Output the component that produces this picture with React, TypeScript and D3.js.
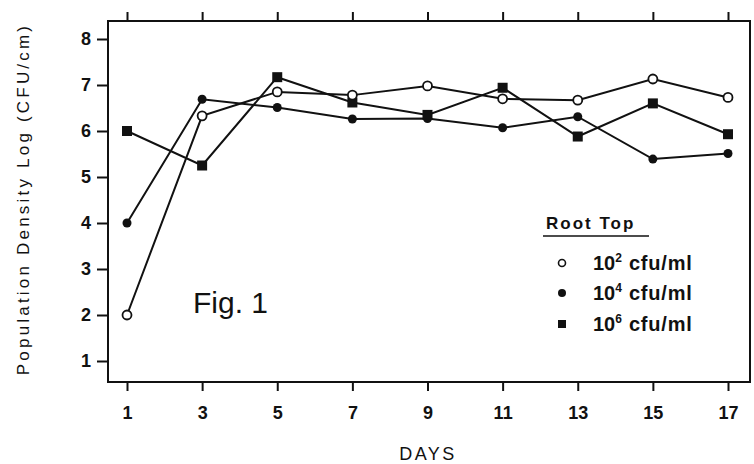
import { useEffect, useRef } from 'react';
import * as d3 from 'd3';

const days = [1, 3, 5, 7, 9, 11, 13, 15, 17];
const yTicks = [1, 2, 3, 4, 5, 6, 7, 8];
const dose2 = [2.0, 6.33, 6.85, 6.78, 6.98, 6.7, 6.67, 7.13, 6.73];
const dose4 = [4.0, 6.69, 6.51, 6.26, 6.27, 6.07, 6.31, 5.39, 5.51];
const dose6 = [6.0, 5.25, 7.17, 6.62, 6.35, 6.94, 5.88, 6.6, 5.93];
const legendLabels = ['2', '4', '6'];

export default function App() {
  const ref = useRef<SVGSVGElement | null>(null);

  useEffect(() => {
    const svg = d3.select(ref.current);
    svg.selectAll('*').remove();

    const font = '"Liberation Sans", Arial, sans-serif';
    const box = { left: 108, right: 750, top: 21, bottom: 382 };

    const x = d3.scaleLinear().domain([1, 17]).range([127, 728]);
    const y = d3.scaleLinear().domain([1, 8]).range([361, 39]);

    // frame
    svg.append('rect')
      .attr('x', box.left)
      .attr('y', box.top)
      .attr('width', box.right - box.left)
      .attr('height', box.bottom - box.top)
      .attr('fill', 'none')
      .attr('stroke', '#111')
      .attr('stroke-width', 2);

    const styleAxis = (g: any) => {
      g.select('.domain').remove();
      g.selectAll('line').attr('stroke', '#111').attr('stroke-width', 2);
      g.selectAll('text')
        .attr('fill', '#111')
        .style('font-family', font)
        .style('font-weight', 'bold')
        .style('font-size', '18px');
    };

    svg.append('g')
      .attr('transform', `translate(${box.left},0)`)
      .call(d3.axisLeft(y).tickValues(yTicks).tickSize(11).tickPadding(6).tickFormat(d3.format('d')))
      .call(styleAxis);

    svg.append('g')
      .attr('transform', `translate(0,${box.bottom})`)
      .call(d3.axisBottom(x).tickValues(days).tickSize(9).tickPadding(15).tickFormat(d3.format('d')))
      .call(styleAxis);

    svg.append('g')
      .attr('transform', `translate(0,${box.top})`)
      .call(d3.axisTop(x).tickValues(days).tickSize(9).tickFormat(() => ''))
      .call(styleAxis);

    // titles
    svg.append('text')
      .attr('transform', `translate(29,199) rotate(-90)`)
      .attr('text-anchor', 'middle')
      .style('font-family', font)
      .style('font-size', '17px')
      .style('font-weight', '500')
      .style('letter-spacing', '3.2px')
      .attr('fill', '#111')
      .text('Population Density Log (CFU/cm)');

    svg.append('text')
      .attr('x', 428)
      .attr('y', 460)
      .attr('text-anchor', 'middle')
      .style('font-family', font)
      .style('font-size', '18px')
      .style('letter-spacing', '2.5px')
      .attr('fill', '#111')
      .text('DAYS');

    svg.append('text')
      .attr('x', 193)
      .attr('y', 313)
      .style('font-family', font)
      .style('font-size', '30px')
      .attr('fill', '#111')
      .text('Fig. 1');

    const line = d3.line<number>()
      .x((_, i) => x(days[i]))
      .y(d => y(d));

    const series = [dose2, dose4, dose6];
    series.forEach(s => {
      svg.append('path')
        .datum(s)
        .attr('fill', 'none')
        .attr('stroke', '#111')
        .attr('stroke-width', 2)
        .attr('d', line);
    });

    // markers
    svg.append('g').selectAll('circle')
      .data(dose4)
      .join('circle')
      .attr('cx', (_, i) => x(days[i]))
      .attr('cy', d => y(d))
      .attr('r', 4.5)
      .attr('fill', '#111');

    svg.append('g').selectAll('rect')
      .data(dose6)
      .join('rect')
      .attr('x', (_, i) => x(days[i]) - 5)
      .attr('y', d => y(d) - 5)
      .attr('width', 10)
      .attr('height', 10)
      .attr('fill', '#111');

    svg.append('g').selectAll('circle')
      .data(dose2)
      .join('circle')
      .attr('cx', (_, i) => x(days[i]))
      .attr('cy', d => y(d))
      .attr('r', 4.5)
      .attr('fill', '#fff')
      .attr('stroke', '#111')
      .attr('stroke-width', 1.8);

    // legend
    const lg = svg.append('g');
    lg.append('text')
      .attr('x', 546)
      .attr('y', 229)
      .style('font-family', font)
      .style('font-size', '17px')
      .style('font-weight', 'bold')
      .style('letter-spacing', '2px')
      .attr('fill', '#111')
      .text('Root Top');
    lg.append('line')
      .attr('x1', 543).attr('x2', 649)
      .attr('y1', 236).attr('y2', 236)
      .attr('stroke', '#111')
      .attr('stroke-width', 1.5);

    const rows = [263, 293, 324];
    const mx = 562;
    lg.append('circle').attr('cx', mx).attr('cy', rows[0]).attr('r', 3.5)
      .attr('fill', '#fff').attr('stroke', '#111').attr('stroke-width', 1.6);
    lg.append('circle').attr('cx', mx).attr('cy', rows[1]).attr('r', 4)
      .attr('fill', '#111');
    lg.append('rect').attr('x', mx - 4).attr('y', rows[2] - 4).attr('width', 8).attr('height', 8)
      .attr('fill', '#111');

    legendLabels.forEach((p, i) => {
      const t = lg.append('text')
        .attr('x', 593)
        .attr('y', rows[i] + 7)
        .style('font-family', font)
        .style('font-size', '20px')
        .style('font-weight', 'bold')
        .attr('fill', '#111');
      t.append('tspan').text('10');
      t.append('tspan').attr('dy', -8).style('font-size', '12px').text(p);
      t.append('tspan').attr('dy', 8).attr('dx', 7).style('letter-spacing', '0.8px').text('cfu/ml');
    });
  }, []);

  return (
    <svg
      ref={ref}
      width={754}
      height={464}
      style={{ position: 'absolute', left: 0, top: 0, background: '#fff' }}
    />
  );
}
